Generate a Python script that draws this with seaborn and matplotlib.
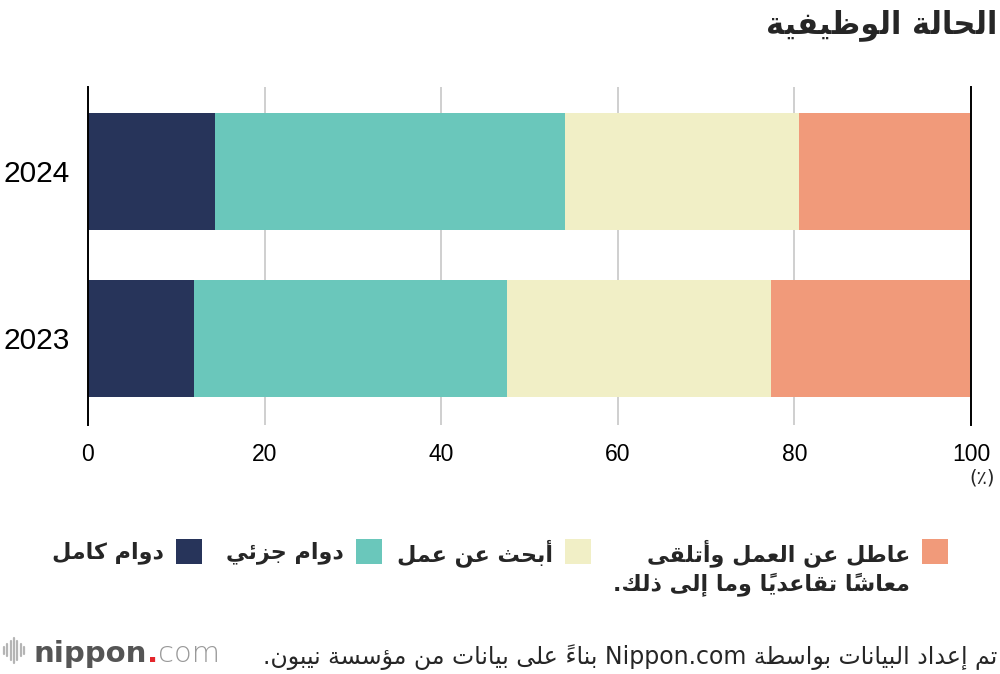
import numpy as np
import matplotlib
matplotlib.use('Agg')
import matplotlib.pyplot as plt
import seaborn as sns
from matplotlib.lines import Line2D
from matplotlib.patches import Rectangle

# Data (%)
years = ['2024', '2023']
full_time = [14.4, 12.0]
part_time = [39.6, 35.4]
looking = [26.5, 29.9]
retired = [19.5, 22.7]

series_names = ['دوام كامل', 'دوام جزئي', 'أبحث عن عمل',
                'عاطل عن العمل وأتلقى\nمعاشًا تقاعديًا وما إلى ذلك.']
series_colors = ['#27345a', '#6ac7bb', '#f1efc6', '#f19a7a']
title = 'الحالة الوظيفية'
source = 'تم إعداد البيانات بواسطة Nippon.com بناءً على بيانات من مؤسسة نيبون.'
unit = '(٪)'
xticks = [0, 20, 40, 60, 80, 100]


# matplotlib does no Arabic shaping: map letters to presentation forms
# and put words in visual (right-to-left) order
def build_forms():
    forms = {}
    code = 0xFE80
    groups = ((0x0621, [1, 2, 2, 2, 2, 4, 2, 4, 2, 4, 4, 4, 4, 4, 2, 2, 2, 2,
                        4, 4, 4, 4, 4, 4, 4, 4]),
              (0x0641, [4, 4, 4, 4, 4, 4, 4, 2, 2, 4]))
    for start, counts in groups:
        for i, n in enumerate(counts):
            forms[chr(start + i)] = [chr(code + k) for k in range(n)]
            code += n
    for i, alef in enumerate('آأإا'):
        forms['ل' + alef] = [chr(0xFEF5 + 2 * i), chr(0xFEF6 + 2 * i)]
    return forms


FORMS = build_forms()


def shape_line(text):
    tokens = []
    for c in text:
        if '\u064b' <= c <= '\u0652' and tokens:
            tokens[-1][1] += c
        elif c in 'آأإا' and tokens and tokens[-1] == ['ل', '']:
            tokens[-1][0] += c
        else:
            tokens.append([c, ''])
    glyphs = []
    for i, (key, marks) in enumerate(tokens):
        forms = FORMS.get(key)
        if forms is None:
            glyphs.append(key + marks)
            continue
        prev = FORMS.get(tokens[i - 1][0]) if i > 0 else None
        nxt = FORMS.get(tokens[i + 1][0]) if i + 1 < len(tokens) else None
        join_prev = prev is not None and len(prev) == 4 and len(forms) > 1
        join_next = len(forms) == 4 and nxt is not None and len(nxt) > 1
        glyphs.append(forms[int(join_prev) + 2 * int(join_next)] + marks)
    words = ''.join(glyphs).split(' ')
    out = [w if w.isascii() else w[::-1] for w in reversed(words)]
    return ' '.join(out)


def ar(text):
    return '\n'.join(shape_line(line) for line in text.split('\n'))


sns.set_style('white')
plt.rcParams['font.family'] = ['Liberation Sans', 'DejaVu Sans']
arabic_font = ['DejaVu Sans']

W, H = 1000, 674
fig = plt.figure(figsize=(10, 6.74), dpi=100)
ax = fig.add_axes([88 / W, 1 - 425 / H, 883 / W, 338 / H])

# stacked bars: draw cumulative totals, longest first
values = np.array([full_time, part_time, looking, retired])
totals = np.cumsum(values, axis=0)
for i in range(3, -1, -1):
    sns.barplot(x=totals[i], y=years, order=years, orient='h', color=series_colors[i],
                saturation=1, width=0.7, linewidth=0, errorbar=None, legend=False,
                ax=ax, zorder=2)

ax.set_xlim(0, 100)
ax.set_ylim(1.518, -0.506)
ax.set_xticks(xticks)
ax.set_xlabel('')
ax.set_ylabel('')
ax.grid(axis='x', color='#cccccc', linewidth=1.3, zorder=0)
ax.grid(axis='y', visible=False)
ax.set_axisbelow(True)
for side in ['top', 'bottom']:
    ax.spines[side].set_visible(False)
for side in ['left', 'right']:
    ax.spines[side].set_visible(True)
    ax.spines[side].set_color('black')
    ax.spines[side].set_linewidth(1.4)
ax.tick_params(axis='x', length=0, pad=13, labelsize=16.5, labelcolor='black')
ax.tick_params(axis='y', length=0, pad=13, labelsize=21.5, labelcolor='black')

fig.text(995 / W, 1 - 478 / H, unit, ha='right', va='center', fontsize=14,
         family=arabic_font)

fig.text(997 / W, 1 - 25 / H, ar(title), ha='right', va='center', fontsize=22,
         fontweight='bold', family=arabic_font)

# legend, right-to-left: colour square with its label on the left
square_left = [176, 356, 565, 922]
for name, color, left in zip(series_names, series_colors, square_left):
    fig.add_artist(Rectangle((left / W, 1 - 564 / H), 26 / W, 25 / H,
                             transform=fig.transFigure, facecolor=color, edgecolor='none'))
    for k, line in enumerate(name.split('\n')):
        fig.text((left - 12) / W, 1 - (553 + 31 * k) / H, ar(line), ha='right', va='center',
                 fontsize=16, fontweight='bold', family=arabic_font)

fig.text(997 / W, 1 - 657 / H, ar(source), ha='right', va='center', fontsize=17,
         family=arabic_font)

# nippon.com logo
for x, h in zip(np.linspace(4, 24, 7), [7, 12, 19, 25, 19, 12, 7]):
    fig.add_artist(Line2D([x / W, x / W], [1 - (650 + h / 2) / H, 1 - (650 - h / 2) / H],
                          color='#b5b5b5', lw=1.6))
t1 = fig.text(34 / W, 1 - 662 / H, 'nippon', fontsize=21, fontweight='bold', color='#555555',
              family=['DejaVu Sans'])
t2 = ax.annotate('.', xy=(1, 0), xycoords=t1, va='bottom', ha='left', fontsize=21,
                 fontweight='bold', color='#e4262c', family=['DejaVu Sans'],
                 annotation_clip=False)
ax.annotate('com', xy=(1, 0), xycoords=t2, va='bottom', ha='left', fontsize=21,
            color='#999999', fontweight='light', family=['DejaVu Sans'],
            annotation_clip=False)

fig.savefig('out.png', dpi=100)
